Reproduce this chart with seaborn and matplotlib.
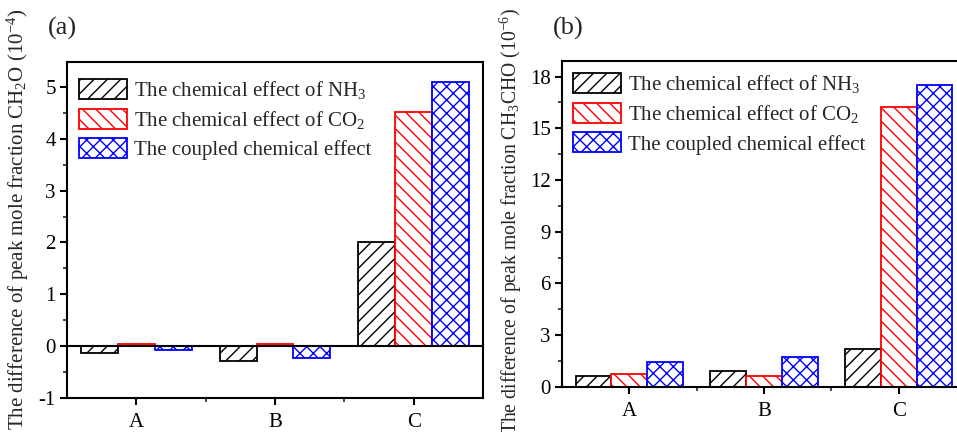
import numpy as np
import pandas as pd
import matplotlib
matplotlib.use("Agg")
import matplotlib.pyplot as plt
from matplotlib.ticker import MultipleLocator, FixedLocator
import seaborn as sns

# ---- data ----
categories = ["A", "B", "C"]
series_labels = ["The chemical effect of NH$_3$",
                 "The chemical effect of CO$_2$",
                 "The coupled chemical effect"]
a_nh3 = [-0.13, -0.28, 2.00]
a_co2 = [0.05, 0.04, 4.52]
a_coupled = [-0.08, -0.22, 5.09]
b_nh3 = [0.64, 0.92, 2.19]
b_co2 = [0.75, 0.64, 16.24]
b_coupled = [1.45, 1.75, 17.48]
ylabel_a = "The difference of peak mole fraction CH$_2$O (10$^{-4}$)"
ylabel_b = "The difference of peak mole fraction CH$_3$CHO (10$^{-6}$)"

edge_colors = ["#000000", "#FF0000", "#0000FF"]
hatches = ["//", "\\\\", "xx"]

DPI = 80
S = 100 / DPI  # scale so that sizes match a 100-dpi layout

sns.set_style("ticks")
plt.rcParams["font.family"] = ["Liberation Serif", "DejaVu Serif"]
plt.rcParams["mathtext.fontset"] = "custom"
plt.rcParams["mathtext.rm"] = "Liberation Serif"
plt.rcParams["mathtext.it"] = "Liberation Serif:italic"
plt.rcParams["mathtext.default"] = "regular"
plt.rcParams["axes.unicode_minus"] = False
plt.rcParams["hatch.linewidth"] = 1.0 * S

FS = 15 * S


def make_df(v1, v2, v3):
    rows = []
    for lab, vals in zip(series_labels, [v1, v2, v3]):
        for c, v in zip(categories, vals):
            rows.append({"cat": c, "val": v, "series": lab})
    return pd.DataFrame(rows)


fig = plt.figure(figsize=(957 / DPI, 432 / DPI), dpi=DPI)
ax_a = fig.add_axes([0.0700, 0.0787, 0.4347, 0.7778])
ax_b = fig.add_axes([0.5873, 0.1042, 0.4220, 0.7546])


def draw(ax, df, ylim, major, minor, ylabel, label_fs, label_x, label_y, leg_anchor):
    sns.barplot(data=df, x="cat", y="val", hue="series", order=categories,
                hue_order=series_labels, palette=["white"] * 3, width=0.8,
                ax=ax, legend=False, errorbar=None, saturation=1)
    for cont, ec, h, lab in zip(ax.containers, edge_colors, hatches, series_labels):
        for p in cont.patches:
            p.set_edgecolor(ec)
            p.set_facecolor("white")
            p.set_hatch(h)
            p.set_linewidth(1.3 * S)
        cont.set_label(lab)
    ax.set_xlim(-0.5, 2.5)
    ax.set_ylim(*ylim)
    ax.yaxis.set_major_locator(MultipleLocator(major))
    ax.yaxis.set_minor_locator(MultipleLocator(minor))
    ax.xaxis.set_minor_locator(FixedLocator([0.5, 1.5]))
    ax.set_xlabel("")
    ax.set_ylabel(ylabel, fontsize=label_fs)
    ax.yaxis.set_label_coords(label_x, label_y)
    for s in ax.spines.values():
        s.set_visible(True)
        s.set_linewidth(1.5 * S)
        s.set_color("black")
    ax.tick_params(axis="both", which="major", direction="out", length=5 * S,
                   width=1.5 * S, labelsize=FS, colors="black", pad=3 * S)
    ax.tick_params(axis="both", which="minor", direction="out", length=3 * S,
                   width=1.2 * S)
    ax.tick_params(axis="x", which="major", pad=6 * S)
    leg = ax.legend(handles=list(ax.containers), loc="upper left",
                    bbox_to_anchor=leg_anchor, frameon=False, fontsize=FS,
                    handlelength=2.3, handleheight=1.1, labelspacing=0.36,
                    handletextpad=0.3, borderpad=0.2, borderaxespad=0)
    for hdl, ec, h in zip(leg.legend_handles, edge_colors, hatches):
        hdl.set_edgecolor(ec)
        hdl.set_facecolor("white")
        hdl.set_hatch(h)
        hdl.set_linewidth(1.3 * S)


draw(ax_a, make_df(a_nh3, a_co2, a_coupled), (-1, 5.48), 1, 0.5, ylabel_a,
     FS, -0.087, 0.53, (0.02, 0.962))
ax_a.axhline(0, color="black", linewidth=1.5 * S, zorder=3)
draw(ax_b, make_df(b_nh3, b_co2, b_coupled), (0, 18.9), 3, 1.5, ylabel_b,
     14.2 * S, -0.093, 0.51, (0.018, 0.975))

fig.text(0.050, 0.935, "(a)", fontsize=19 * S, ha="left", va="center")
fig.text(0.578, 0.935, "(b)", fontsize=19 * S, ha="left", va="center")

fig.savefig("out.png", dpi=DPI)
